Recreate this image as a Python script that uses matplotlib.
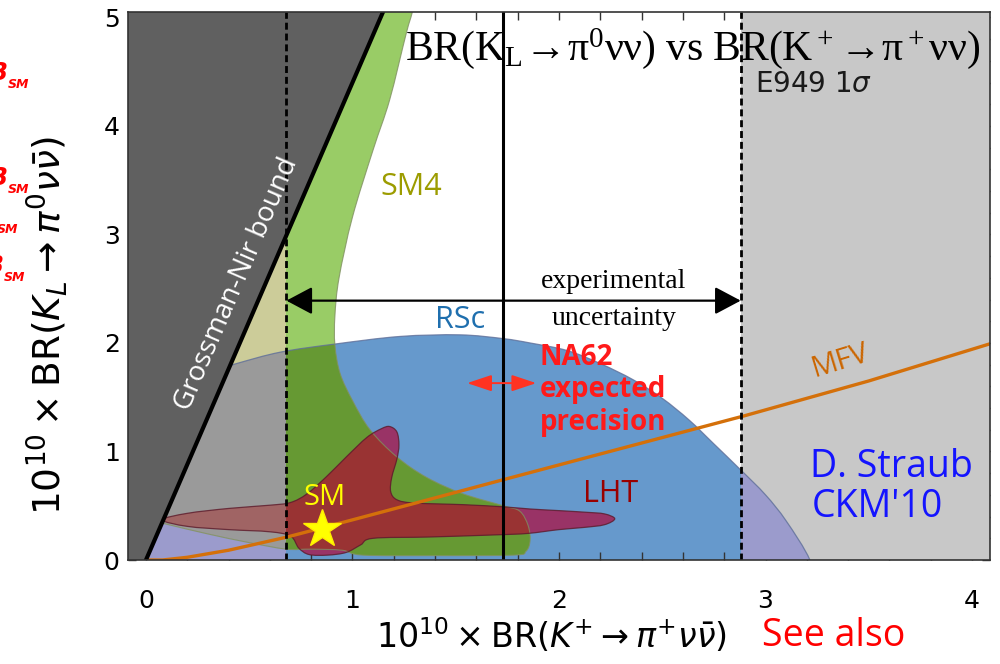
import matplotlib
matplotlib.use("Agg")
import matplotlib.pyplot as plt
import numpy as np
from matplotlib.path import Path
from matplotlib.patches import PathPatch, FancyArrowPatch
from matplotlib.ticker import MultipleLocator
from matplotlib.transforms import Bbox, TransformedBbox

plt.rcParams["mathtext.fontset"] = "custom"
plt.rcParams["mathtext.rm"] = "Liberation Serif"
plt.rcParams["mathtext.it"] = "Liberation Serif:italic"
plt.rcParams["mathtext.bf"] = "Liberation Serif:bold"

# ---------------------------------------------------------------- data
# axis ranges, in units of 1e-10
x_range = (-0.087, 4.087)
y_range = (0.0, 5.05)
x_ticks = [0, 1, 2, 3, 4]
y_ticks = [0, 1, 2, 3, 4, 5]

# Grossman-Nir bound: BR(KL) <= 4.4 BR(K+)
gn_factor = 4.4

# E949: BR(K+ -> pi+ nu nubar) central value and 1 sigma interval
e949_central = 1.73
e949_interval = (0.68, 2.88)
exp_unc_level = 2.39

# NA62 expected precision
na62_span = (1.555, 1.89)
na62_level = 1.63

# Standard Model point
sm_kplus = 0.85
sm_kl = 0.29

# MFV correlation
mfv_x = [0.0, 0.08, 0.2, 0.4, 0.68, 1.0, 1.73, 2.9, 3.5, 4.1]
mfv_y = [0.0, 0.0, 0.025, 0.09, 0.21, 0.37, 0.74, 1.33, 1.65, 2.0]

# SM4 allowed region (outline knots)
sm4_x = [1.00, 1.32, 1.29, 1.26, 1.18, 1.10, 1.00, 0.935, 0.915, 0.915, 0.94,
         1.00, 1.085, 1.215, 1.36, 1.535, 1.73, 1.81, 1.85, 1.86, 1.84, 1.78,
         1.40, 1.05, 0.95, 0.80, 0.68, 0.50, 0.30, 0.10, 0.00, -0.20]
sm4_y = [5.30, 5.30, 5.05, 4.85, 4.24, 3.78, 3.16, 2.60, 2.25, 1.98, 1.72,
         1.47, 1.20, 0.95, 0.76, 0.61, 0.50, 0.45, 0.32, 0.18, 0.08, 0.045,
         0.04, 0.045, 0.09, 0.10, 0.10, 0.16, 0.24, 0.33, 0.38, 0.50]

# RSc region
rsc_x = [-0.30, -0.30, 0.10, 0.42, 0.65, 0.915, 1.23, 1.52, 1.73, 1.86, 2.04,
         2.20, 2.36, 2.50, 2.63, 2.75, 2.88, 3.00, 3.10, 3.215, 3.25]
rsc_y = [-0.30, 1.35, 1.62, 1.80, 1.915, 1.99, 2.06, 2.075, 2.04, 2.00, 1.93,
         1.81, 1.66, 1.49, 1.29, 1.07, 0.83, 0.60, 0.36, 0.0, -0.30]

# LHT region
lht_x = [0.08, 0.20, 0.40, 0.60, 0.70, 0.78, 0.875, 0.97, 1.07, 1.14, 1.18,
         1.215, 1.225, 1.215, 1.19, 1.185, 1.215, 1.30, 1.535, 1.73, 1.86,
         2.00, 2.13, 2.22, 2.27, 2.22, 2.12, 2.00, 1.85, 1.70, 1.375, 1.10,
         1.04, 0.97, 0.88, 0.79, 0.74, 0.70, 0.60, 0.40, 0.20]
lht_y = [0.37, 0.43, 0.475, 0.505, 0.53, 0.61, 0.77, 0.95, 1.13, 1.21, 1.23,
         1.18, 1.06, 0.93, 0.76, 0.63, 0.555, 0.525, 0.51, 0.49, 0.47,
         0.455, 0.44, 0.425, 0.38, 0.325, 0.30, 0.28, 0.245, 0.232, 0.212,
         0.20, 0.14, 0.07, 0.045, 0.05, 0.11, 0.22, 0.26, 0.28, 0.31]


def closed_curve(xs, ys):
    """Closed smooth Bezier path through the outline knots."""
    p = np.column_stack([xs, ys]).astype(float)
    n = len(p)
    verts = [p[0]]
    codes = [Path.MOVETO]
    for i in range(n):
        p0, p1, p2, p3 = p[i - 1], p[i], p[(i + 1) % n], p[(i + 2) % n]
        verts += [p1 + (p2 - p0) / 6.0, p2 - (p3 - p1) / 6.0, p2]
        codes += [Path.CURVE4] * 3
    verts.append(p[0])
    codes.append(Path.CLOSEPOLY)
    return Path(np.array(verts), codes)


fig = plt.figure(figsize=(10, 6.64), dpi=100)
ax = fig.add_axes([0.128, 1 - 560 / 664, 0.862, 548 / 664])
ax.set_xlim(*x_range)
ax.set_ylim(*y_range)

sm4 = closed_curve(sm4_x, sm4_y)
rsc = closed_curve(rsc_x, rsc_y)
lht = closed_curve(lht_x, lht_y)


def region(path, color, z, clip=None, box=None):
    patch = PathPatch(path, facecolor=color, edgecolor="none", lw=0, zorder=z)
    ax.add_patch(patch)
    if clip is not None:
        patch.set_clip_path(clip, ax.transData)
    if box is not None:
        patch.set_clip_box(box)
    return patch


# model regions inside the E949 1 sigma band
region(rsc, "#6699cc", 1)
region(sm4, "#99cc66", 2)
region(sm4, "#669933", 3, clip=rsc)
region(lht, "#993366", 4)
region(lht, "#993333", 5, clip=sm4)

# outside the E949 1 sigma band: shaded versions
lo, hi = e949_interval
bands = [
    TransformedBbox(Bbox([[x_range[0], y_range[0]], [lo, y_range[1]]]), ax.transData),
    TransformedBbox(Bbox([[hi, y_range[0]], [x_range[1], y_range[1]]]), ax.transData),
]
ax.axvspan(x_range[0], lo, color="#c8c8c8", lw=0, zorder=6)
ax.axvspan(hi, x_range[1], color="#c8c8c8", lw=0, zorder=6)
for box in bands:
    region(rsc, "#9b9bcc", 7, box=box)
    region(sm4, "#cccc99", 8, box=box)
    region(sm4, "#9a9a9a", 9, clip=rsc, box=box)
    region(lht, "#a06464", 10, box=box)

# region outlines
for path, ec, lw in [(rsc, "#5f6f99", 0.9), (sm4, "#7f8f60", 0.8),
                     (lht, "#5c1a2a", 0.9)]:
    ax.add_patch(PathPatch(path, facecolor="none", edgecolor=ec, lw=lw,
                           alpha=0.8, zorder=11))

# Grossman-Nir excluded region
gy = np.array([-0.5, 6.0])
ax.fill_betweenx(gy, -1.0, gy / gn_factor, color="#606060", lw=0, zorder=12)
ax.plot(gy / gn_factor, gy, color="black", lw=3, zorder=14,
        solid_capstyle="butt")

# MFV line
ax.plot(mfv_x, mfv_y, color="#d4700a", lw=2.4, zorder=13,
        solid_capstyle="round")

# E949 central value and 1 sigma limits
ax.axvline(e949_central, color="black", lw=2.2, zorder=14)
for xv in e949_interval:
    ax.axvline(xv, color="black", lw=2.0, ls=(0, (2.5, 1.4)), zorder=14)

# arrows
ax.add_patch(FancyArrowPatch((lo, exp_unc_level), (hi, exp_unc_level),
                             arrowstyle="<|-|>,head_length=16,head_width=8.5",
                             mutation_scale=1, color="black", lw=1.6,
                             shrinkA=0, shrinkB=0, zorder=15))
ax.add_patch(FancyArrowPatch((na62_span[0], na62_level), (na62_span[1], na62_level),
                             arrowstyle="<|-|>,head_length=15,head_width=5",
                             mutation_scale=1, color="#ff3322", lw=1.4,
                             shrinkA=0, shrinkB=0, zorder=15))

# SM point
ax.plot([sm_kplus], [sm_kl], marker="*", ms=29, color="#ffff00",
        mec="#ffee00", zorder=16)

# labels on the plot
lab = dict(family="Open Sans", ha="center", va="center", zorder=17)
ax.text(1.283, 3.44, "SM4", color="#9c9c00", fontsize=22, **lab)
ax.text(1.52, 2.21, "RSc", color="#1f6fae", fontsize=22, **lab)
ax.text(2.25, 0.61, "LHT", color="#990000", fontsize=22, **lab)
ax.text(0.867, 0.58, "SM", color="#ffff00", fontsize=21, **lab)
ax.text(3.36, 1.83, "MFV", color="#cc6600", fontsize=21, rotation=17,
        rotation_mode="anchor", **lab)
ax.text(0.44, 2.54, "Grossman-Nir bound", color="white", fontsize=20,
        rotation=66.6, rotation_mode="anchor", **lab)

ser = dict(family="Liberation Serif", ha="center", va="center", fontsize=20,
           color="black", zorder=17)
ax.text(2.266, 2.57, "experimental", **ser)
ax.text(2.266, 2.23, "uncertainty", **ser)

red = dict(family="Open Sans", fontweight="bold", color="#ff1a1a",
           fontsize=20, ha="left", va="center", zorder=17)
ax.text(1.905, 1.87, "NA62", **red)
ax.text(1.905, 1.57, "expected", **red)
ax.text(1.905, 1.27, "precision", **red)

blue = dict(family="Open Sans", color="#1414ff", fontsize=27, ha="left",
            va="center", zorder=17)
ax.text(3.215, 0.86, "D. Straub", **blue)
ax.text(3.225, 0.49, "CKM'10", **blue)

ax.text(2.95, 4.39, r"E949 $1\sigma$", fontsize=20, color="#1a1a1a",
        family="DejaVu Sans", math_fontfamily="dejavusans", ha="left",
        va="center", zorder=17)

# ticks and frame
ax.set_xticks(x_ticks)
ax.set_yticks(y_ticks)
ax.xaxis.set_minor_locator(MultipleLocator(0.2))
ax.yaxis.set_minor_locator(MultipleLocator(0.2))
ax.tick_params(which="both", direction="in", top=True, right=True,
               length=6, width=1, color="#333333")
ax.tick_params(axis="x", labelsize=18, pad=21)
ax.tick_params(axis="y", labelsize=18, pad=6)
for s in ax.spines.values():
    s.set_color("#333333")
    s.set_linewidth(1.2)
    s.set_zorder(18)

# axis titles
fig.text(0.551, 1 - 636 / 664,
         r"$10^{10}\times\mathrm{BR}(K^{+}\rightarrow\pi^{+}\nu\bar{\nu})$",
         fontsize=24, math_fontfamily="dejavusans", ha="center", va="center")
fig.text(0.047, 1 - 326 / 664,
         r"$10^{10}\times\mathrm{BR}(K_{L}\rightarrow\pi^{0}\nu\bar{\nu})$",
         fontsize=27, math_fontfamily="dejavusans", rotation=90,
         ha="center", va="center")

# slide title
fig.text(0.405, 1 - 60 / 664,
         r"$\mathrm{BR(K_L\!\rightarrow\!\pi^0\nu\nu)\ vs\ BR(K^+\!\rightarrow\!\pi^+\nu\nu)}$",
         fontsize=30, math_fontfamily="custom", ha="left", va="baseline",
         zorder=20)

fig.text(0.762, 1 - 636 / 664, "See also", family="Open Sans",
         fontsize=27, color="#ff0000", ha="left", va="center")

# side notes running off the left edge: "B" with an "SM" subscript
for xb, yb in [(7, 80), (7, 185), (-4, 225), (3, 273)]:
    fig.text(xb / 1000, 1 - yb / 664, "B", color="#ff0000", fontsize=17,
             fontweight="bold", fontstyle="italic", ha="right",
             va="baseline")
    fig.text((xb + 1) / 1000, 1 - (yb + 8) / 664, "SM", color="#ff0000",
             fontsize=9, fontweight="bold", fontstyle="italic", ha="left",
             va="baseline")

fig.savefig("out.png", dpi=100)
